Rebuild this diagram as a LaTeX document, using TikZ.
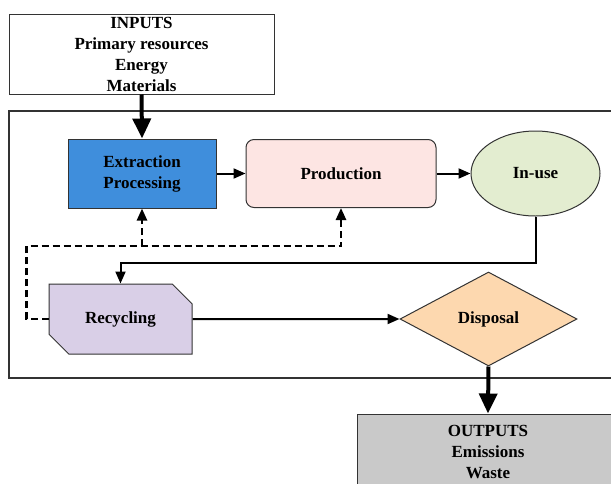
\documentclass[tikz,border=0pt]{standalone}
\usepackage{fontspec}
\setmainfont{Liberation Serif}
\usepackage{xcolor}
\usepackage{tikz}
\usetikzlibrary{arrows.meta,positioning,shapes.geometric,shapes.misc}

\definecolor{extblue}{HTML}{3F8EDC}
\definecolor{prodpink}{HTML}{FDE5E3}
\definecolor{usegreen}{HTML}{E3EDD0}
\definecolor{recviolet}{HTML}{D9CFE7}
\definecolor{dispbeige}{HTML}{FDD8AF}
\definecolor{outgray}{HTML}{C9C9C9}

\begin{document}
\begin{tikzpicture}[x=1pt,y=-1pt,on grid,
    font=\fontsize{17}{21}\selectfont\bfseries,
    box/.style={draw=black!80, line width=1pt, inner sep=0pt, align=center},
    flow/.style={line width=2pt, -{Triangle[width=10pt,length=12pt]}},
    big/.style={line width=4pt, -{Triangle[width=18pt,length=20pt]}},
    back/.style={line width=2.5pt, dash pattern=on 7pt off 4pt, -{Triangle[width=10pt,length=12pt]}}]
   \useasboundingbox (0,0) rectangle (611,483);
   \clip (0,0) rectangle (611,483);
   % system boundary
   \draw[line width=1.2pt, black!80] (9,111) rectangle (630,378);
   \node[box, minimum width=265pt, minimum height=80pt] (I) at (141.5,54) {INPUTS\\Primary resources\\Energy\\Materials};
   \node[box, fill=extblue, minimum width=148pt, minimum height=69pt] (E) at (142,173.5) {Extraction\\Processing};
   \node[box, fill=prodpink, rounded corners=8pt, minimum width=190pt, minimum height=68pt] (P) [right=199pt of E] {Production};
   \node[box, ellipse, fill=usegreen, minimum width=129pt, minimum height=85pt] (U) [right=194.5pt of P] {In-use};
   \node[box, chamfered rectangle, chamfered rectangle corners={north east,south west},
         chamfered rectangle xsep=12pt, chamfered rectangle ysep=12pt,
         fill=recviolet, minimum width=143pt, minimum height=70pt] (R) at (120.5,319) {Recycling};
   \node[box, diamond, aspect=1.88, fill=dispbeige, minimum width=177pt, minimum height=94pt] (D) [right=368pt of R] {Disposal};
   \node[box, fill=outgray, minimum width=262pt, minimum height=76pt] (O) at (488,452) {OUTPUTS\\Emissions\\Waste};
   \coordinate (J) at (142,246);
   \draw[big] (I.south) -- (E.north);
   \draw[flow] (E) -- (P);
   \draw[flow] (P) -- (U);
   \draw[flow] (U.south) -- ++(0,46) -| (R.north);
   \draw[flow] (R) -- (D);
   \draw[big] (D.south) -- (O.north);
   % recycled flows back
   \draw[back] (R.west) -- ++(-22,0) |- (J) -| (P.south);
   \draw[back] (J) -- (E.south);
\end{tikzpicture}
\end{document}
